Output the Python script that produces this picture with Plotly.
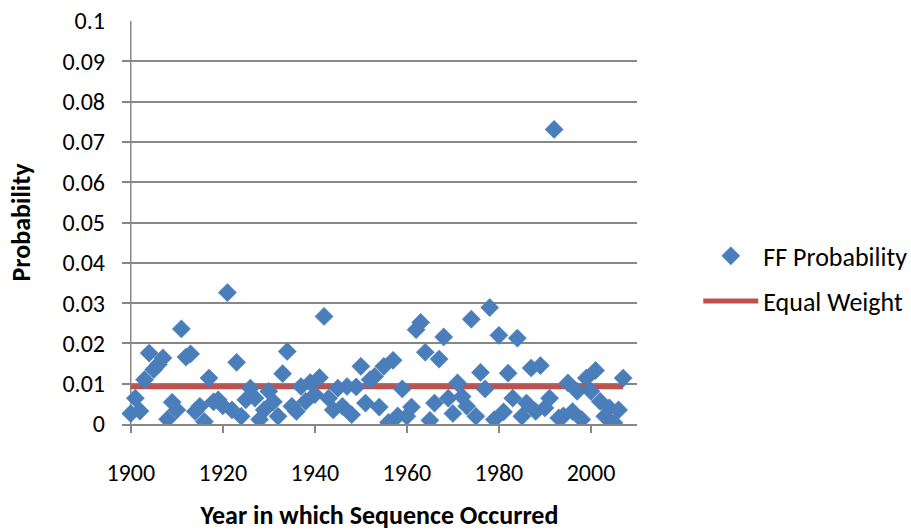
import plotly.graph_objects as go

years = list(range(1900, 2008))
ff_probability = [
    0.0026, 0.0064, 0.0032, 0.0110, 0.0176, 0.0135, 0.0148, 0.0164, 0.0012, 0.0054,
    0.0035, 0.0236, 0.0166, 0.0174, 0.0031, 0.0044, 0.0006, 0.0114, 0.0055, 0.0060,
    0.0045, 0.0326, 0.0035, 0.0153, 0.0019, 0.0060, 0.0089, 0.0064, 0.0011, 0.0035,
    0.0081, 0.0055, 0.0019, 0.0125, 0.0180, 0.0044, 0.0031, 0.0093, 0.0056, 0.0103,
    0.0073, 0.0115, 0.0267, 0.0064, 0.0035, 0.0089, 0.0044, 0.0093, 0.0023, 0.0092,
    0.0143, 0.0052, 0.0110, 0.0118, 0.0042, 0.0143, 0.0004, 0.0158, 0.0020, 0.0087,
    0.0019, 0.0042, 0.0234, 0.0252, 0.0178, 0.0009, 0.0052, 0.0161, 0.0216, 0.0064,
    0.0026, 0.0102, 0.0068, 0.0044, 0.0260, 0.0019, 0.0128, 0.0087, 0.0289, 0.0011,
    0.0220, 0.0030, 0.0126, 0.0064, 0.0213, 0.0019, 0.0052, 0.0139, 0.0031, 0.0145,
    0.0040, 0.0064, 0.0731, 0.0015, 0.0020, 0.0102, 0.0031, 0.0081, 0.0011, 0.0114,
    0.0081, 0.0133, 0.0056, 0.0019, 0.0040, 0.0003, 0.0035, 0.0114,
]
equal_weight = [1 / len(years)] * len(years)

y_ticks = [i / 100 for i in range(11)]
y_labels = ["0", "0.01", "0.02", "0.03", "0.04", "0.05", "0.06", "0.07", "0.08", "0.09", "0.1"]
x_ticks = [1900, 1920, 1940, 1960, 1980, 2000]

FONT = "Carlito, Calibri, Lato, sans-serif"
GRID = "#878787"
FS = 24
FS_T = 26

fig = go.Figure()
fig.add_trace(go.Scatter(
    x=years, y=equal_weight, mode="lines", name="Equal Weight",
    line=dict(color="#C0504D", width=5), legend="legend2",
))
fig.add_trace(go.Scatter(
    x=years, y=ff_probability, mode="markers", name="FF Probability",
    marker=dict(symbol="diamond", size=14, color="#4A7EBB",
                line=dict(width=0.5, color="#4A7EBB")),
    legend="legend",
))

fig.add_shape(type="line", xref="x", yref="paper", x0=1900, x1=1900, y0=0, y1=1,
              line=dict(color=GRID, width=1.5), layer="below")

fig.update_layout(
    width=911, height=531,
    margin=dict(l=122, r=274, t=21, b=107, autoexpand=False),
    paper_bgcolor="white", plot_bgcolor="white",
    font=dict(family=FONT, size=FS, color="#000"),
    legend=dict(x=1.119, y=0.417, xanchor="left", yanchor="middle",
                font=dict(size=FS_T), itemwidth=55, bgcolor="rgba(0,0,0,0)"),
    legend2=dict(x=1.119, y=0.305, xanchor="left", yanchor="middle",
                 font=dict(size=FS_T), itemwidth=55, bgcolor="rgba(0,0,0,0)"),
    showlegend=True,
)
fig.update_xaxes(
    range=[1898.1, 2010], tickvals=x_ticks, ticktext=[str(v) for v in x_ticks],
    showgrid=False, zeroline=False, showline=True, linecolor=GRID, linewidth=1.5,
    ticks="outside", ticklen=7, tickcolor=GRID, tickwidth=1.5,
    ticklabelstandoff=19, automargin=False,
    title=dict(text="<b>Year in which Sequence Occurred</b>", standoff=25,
               font=dict(size=FS_T)),
)
fig.update_yaxes(
    range=[0, 0.1], tickvals=y_ticks, ticktext=y_labels,
    showgrid=True, gridcolor=GRID, gridwidth=1.5, zeroline=False, showline=False,
    ticks="", ticklabelstandoff=16, automargin=False,
    title=dict(text="<b>Probability</b>", standoff=24, font=dict(size=FS_T)),
)

fig.write_html("out.html")
